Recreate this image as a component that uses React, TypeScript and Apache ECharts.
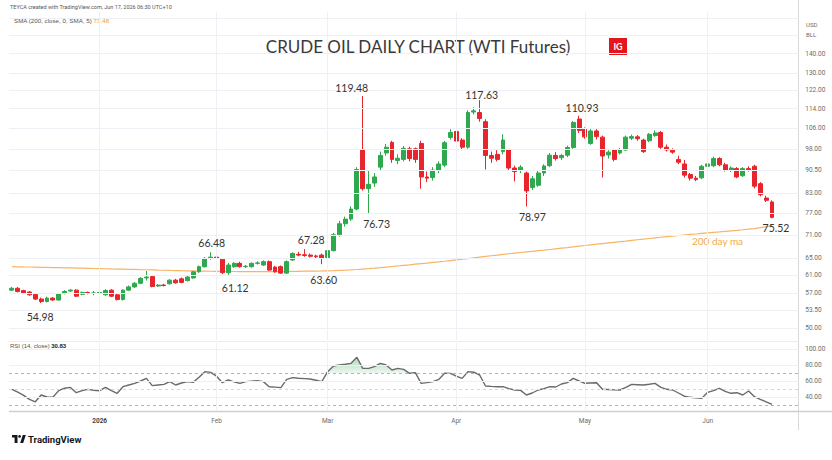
import React, { useEffect, useRef } from "react";
import * as echarts from "echarts";

// ---------- DATA ----------
const TRADE_DAYS: Array<[string, number[]]> = [
  ["2025-12", [10, 11, 12, 15, 16, 17, 18, 19, 22, 23, 24, 26, 29, 30, 31]],
  ["2026-01", [2, 5, 6, 7, 8, 9, 12, 13, 14, 15, 16, 20, 21, 22, 23, 26, 27, 28, 29, 30]],
  ["2026-02", [2, 3, 4, 5, 6, 9, 10, 11, 12, 13, 17, 18, 19, 20, 23, 24, 25, 26, 27]],
  ["2026-03", [2, 3, 4, 5, 6, 9, 10, 11, 12, 13, 16, 17, 18, 19, 20, 23, 24, 25, 26, 27, 30, 31]],
  ["2026-04", [1, 2, 3, 6, 7, 8, 9, 10, 13, 14, 15, 16, 17, 20, 21, 22, 23, 24, 27, 28, 29, 30]],
  ["2026-05", [1, 4, 5, 6, 7, 8, 11, 12, 13, 14, 15, 18, 19, 20, 21, 22, 25, 26, 27, 28, 29]],
  ["2026-06", [1, 2, 3, 4, 5, 8, 9, 10, 11, 12, 15, 16]],
];
const FUTURE_DAYS = ["2026-06-17", "2026-06-18", "2026-06-22", "2026-06-23"];
const MONTH_LABELS: Record<string, string> = {
  "2026-01": "2026",
  "2026-02": "Feb",
  "2026-03": "Mar",
  "2026-04": "Apr",
  "2026-05": "May",
  "2026-06": "Jun",
};

// [open, high, low, close]
const PRICE_BARS: number[][] = [
  [57.7, 58.4, 57.5, 58.1], [58.1, 58.4, 57.2, 57.4], [57.6, 57.8, 56.9, 57.1], [57.3, 57.5, 56.5, 56.7],
  [56.8, 57.0, 55.6, 55.8], [55.8, 56.1, 54.98, 55.3], [55.3, 56.3, 55.1, 56.0], [56.0, 56.2, 55.4, 55.6],
  [55.6, 57.1, 55.5, 56.9], [57.0, 57.7, 56.8, 57.4], [57.5, 57.9, 57.3, 57.7], [57.7, 57.9, 56.2, 56.4],
  [56.8, 57.4, 56.6, 57.2], [57.2, 57.4, 56.8, 57.0], [57.0, 57.5, 56.6, 57.1], [57.1, 57.4, 56.7, 57.2],
  [56.7, 57.9, 56.5, 57.6], [57.7, 57.9, 56.2, 56.4], [56.7, 56.9, 55.5, 55.7], [55.7, 57.9, 55.5, 57.7],
  [57.7, 58.7, 57.5, 58.4], [58.4, 59.5, 58.2, 59.2], [59.2, 60.6, 59.0, 60.3], [60.4, 62.0, 59.8, 60.6],
  [60.7, 61.0, 58.3, 58.5], [58.6, 59.0, 58.4, 58.8], [58.8, 59.1, 58.5, 58.7], [59.1, 60.1, 58.9, 59.9],
  [59.9, 60.2, 59.1, 59.3], [60.2, 60.5, 59.2, 59.4], [59.8, 60.9, 59.6, 60.6], [60.4, 62.0, 60.2, 61.8],
  [61.8, 63.3, 61.6, 63.0], [63.0, 65.3, 62.8, 65.0], [65.0, 66.48, 64.7, 65.3], [65.3, 65.7, 64.6, 65.0],
  [64.8, 65.0, 61.3, 61.6], [61.6, 63.9, 61.12, 63.4], [63.0, 64.1, 62.7, 63.8], [63.8, 64.2, 62.8, 63.0],
  [63.0, 63.4, 62.7, 63.1], [63.0, 64.0, 62.8, 63.8], [63.8, 64.3, 63.5, 63.9], [63.4, 64.5, 63.2, 64.2],
  [64.2, 64.5, 62.0, 62.2], [62.9, 63.2, 61.6, 61.8], [63.0, 63.3, 61.3, 61.5], [61.5, 64.5, 61.3, 64.2],
  [64.6, 66.5, 64.4, 66.2], [66.0, 66.6, 65.5, 65.8], [65.9, 67.28, 65.4, 65.7], [65.8, 66.2, 65.2, 65.5],
  [65.6, 65.9, 65.0, 65.4], [65.8, 66.2, 63.6, 65.0], [65.2, 67.1, 64.9, 66.9], [66.9, 71.5, 66.7, 71.0],
  [71.0, 74.8, 70.5, 74.0], [74.0, 76.0, 73.2, 75.3], [75.3, 79.0, 74.8, 78.2], [78.2, 91.5, 77.8, 90.7],
  [97.6, 119.48, 83.8, 84.4], [84.4, 90.5, 76.73, 85.8], [86.2, 89.5, 85.0, 88.2], [91.5, 97.0, 90.5, 95.6],
  [96.5, 99.8, 95.5, 98.6], [100.4, 101.0, 93.0, 94.2], [93.8, 96.0, 92.5, 94.6], [94.2, 99.0, 93.5, 98.2],
  [98.0, 98.8, 93.5, 94.5], [98.0, 98.5, 93.0, 94.2], [100.0, 101.0, 84.4, 88.2], [88.2, 90.0, 86.5, 87.8],
  [88.0, 91.5, 87.0, 90.5], [90.5, 93.5, 89.5, 92.6], [92.2, 101.0, 91.5, 100.3], [102.3, 105.5, 101.5, 104.2],
  [104.6, 105.8, 100.0, 100.9], [101.3, 102.0, 97.5, 98.6], [98.6, 113.2, 98.0, 112.3], [112.5, 114.5, 111.5, 113.0],
  [112.3, 117.63, 108.5, 109.8], [108.5, 109.5, 90.7, 95.6], [95.6, 97.0, 93.0, 94.6], [96.0, 97.5, 93.5, 94.2],
  [97.0, 103.5, 96.0, 101.3], [97.6, 98.0, 90.5, 91.2], [91.2, 92.0, 86.7, 90.0], [90.5, 92.2, 89.5, 91.5],
  [89.5, 90.0, 78.97, 83.7], [84.8, 88.5, 84.0, 87.6], [85.5, 90.5, 85.0, 89.5], [89.5, 92.5, 88.5, 91.9],
  [92.0, 96.5, 91.5, 95.7], [95.6, 96.8, 93.8, 94.5], [94.8, 96.2, 94.0, 95.6], [95.7, 99.2, 95.0, 98.5],
  [98.5, 108.8, 98.0, 108.2], [109.6, 110.93, 104.0, 105.0], [105.5, 106.2, 101.8, 102.5], [100.0, 105.5, 99.5, 104.8],
  [104.8, 105.5, 101.5, 102.6], [102.4, 103.0, 88.0, 95.4], [95.8, 97.5, 94.5, 96.8], [97.6, 98.0, 93.5, 94.2],
  [96.5, 98.3, 96.0, 97.6], [97.6, 103.0, 97.2, 102.4], [102.0, 103.4, 101.3, 102.6], [102.5, 103.2, 101.0, 101.8],
  [101.3, 101.8, 96.5, 97.0], [101.0, 104.0, 100.5, 103.5], [103.0, 105.0, 102.5, 104.0], [104.2, 104.8, 98.0, 98.6],
  [98.6, 99.6, 97.0, 97.6], [97.5, 98.2, 96.2, 96.8], [94.2, 95.5, 92.5, 93.2], [92.6, 94.0, 88.0, 88.8],
  [89.0, 89.5, 87.0, 87.8], [87.8, 88.5, 86.8, 87.3], [87.9, 92.3, 87.5, 91.8], [91.8, 93.2, 91.2, 92.6],
  [92.0, 95.2, 91.5, 94.5], [94.5, 95.0, 91.8, 92.3], [92.3, 93.0, 90.0, 90.5], [90.5, 91.8, 89.8, 91.2],
  [91.0, 91.5, 87.8, 88.2], [88.6, 91.5, 88.2, 91.0], [91.0, 91.8, 90.0, 90.6], [91.8, 92.3, 84.5, 85.2],
  [86.0, 86.5, 82.0, 82.5], [81.5, 82.2, 80.3, 80.8], [80.3, 80.8, 75.52, 75.8],
];

const MA200: number[] = [
  63.0, 62.98, 62.95, 62.93, 62.9, 62.86, 62.83, 62.8, 62.77, 62.74,
  62.71, 62.68, 62.65, 62.62, 62.58, 62.55, 62.52, 62.48, 62.45, 62.42,
  62.38, 62.35, 62.31, 62.28, 62.24, 62.2, 62.17, 62.13, 62.1, 62.06,
  62.03, 62.0, 61.97, 61.95, 61.93, 61.91, 61.89, 61.88, 61.87, 61.86,
  61.85, 61.85, 61.85, 61.85, 61.86, 61.86, 61.87, 61.88, 61.9, 61.92,
  61.94, 61.96, 61.98, 62.0, 62.03, 62.07, 62.12, 62.18, 62.25, 62.34,
  62.45, 62.55, 62.66, 62.78, 62.91, 63.04, 63.17, 63.31, 63.45, 63.6,
  63.74, 63.87, 64.01, 64.15, 64.3, 64.46, 64.62, 64.78, 64.95, 65.13,
  65.31, 65.48, 65.64, 65.8, 65.97, 66.13, 66.29, 66.44, 66.59, 66.74,
  66.89, 67.04, 67.2, 67.36, 67.52, 67.68, 67.85, 68.03, 68.21, 68.38,
  68.55, 68.71, 68.87, 69.03, 69.19, 69.35, 69.52, 69.69, 69.85, 70.02,
  70.19, 70.35, 70.51, 70.66, 70.81, 70.95, 71.09, 71.22, 71.36, 71.5,
  71.64, 71.78, 71.93, 72.07, 72.21, 72.36, 72.52, 72.68, 72.92, 73.2, 73.48,
];

const RSI14: number[] = [
  49.6, 46, 42, 37, 34, 42.5, 40, 39.6, 48, 51,
  52, 45.4, 48, 49.6, 48.5, 47.9, 52.1, 48, 44.6, 52.9,
  55, 57.1, 60, 63.3, 54.2, 55, 55.8, 59.2, 55, 57.5,
  59.2, 58.3, 64.6, 71.7, 70.8, 66, 57.9, 61.3, 59, 57.1,
  59.2, 59.8, 60.4, 59.2, 52.9, 52.3, 51.7, 62.1, 64.2, 63.5,
  63, 62.5, 61, 59.2, 71.7, 78.7, 80, 81, 82.1, 89.6,
  75.8, 75.8, 78, 82.1, 80, 73.8, 75.8, 74.6, 69.6, 70.4,
  57.1, 58, 59.2, 62, 69.6, 69.5, 66, 63.3, 71.7, 71,
  67.5, 53.75, 53.3, 52.9, 52.9, 50.5, 48.75, 48.3, 42.5, 45,
  48.75, 50.5, 52.9, 52.5, 56.25, 58, 63.3, 60, 57.1, 57.5,
  57.9, 49.6, 49.3, 48.9, 48.75, 52, 55.8, 55.4, 55, 56,
  57.1, 52, 49.6, 48.75, 45, 41, 39.6, 38.9, 38.3, 45.8,
  48, 50.8, 47, 44.6, 45.4, 42.5, 47.5, 40.4, 37, 34, 30.83,
];

const PRICE_TICKS = [140, 130, 122, 114, 106, 98, 90.5, 83, 77, 71, 65, 61, 57, 53.5, 50];
const PRICE_GRID_ONLY = [150, 160];
const RSI_TICKS = [100, 80, 60, 40];
const RSI_LEVELS = [70, 50, 30];

// [bar index, price] of the annotated highs / lows
const ANNOTATIONS: Array<[number, number]> = [
  [60, 119.48], [80, 117.63], [97, 110.93], [61, 76.73], [88, 78.97], [130, 75.52],
  [34, 66.48], [50, 67.28], [37, 61.12], [53, 63.6], [5, 54.98],
];
const ANNOTATION_OFFSETS: Array<[number, number]> = [
  [-11, -8], [2, -5], [3, -8], [8, 10], [6, 11], [4, 10],
  [1, -9], [7, -9], [7, 13], [2, 16], [-1, 14],
];

// ---------- STYLE ----------
const UP = "#2fa84f";
const DOWN = "#e8252c";
const GRID_LINE = "#edf0f4";
const AXIS_TEXT = "#6b6b6b";
const SMALL_FONT = "Roboto, 'Liberation Sans', sans-serif";
const LABEL_FONT = "Lato, 'Liberation Sans', sans-serif";

export default function App() {
  const ref = useRef<HTMLDivElement>(null);

  useEffect(() => {
    document.body.style.margin = "0";
    if (!ref.current) return;
    const chart = echarts.init(ref.current, null, { renderer: "svg" });

    const tradeDates: string[] = TRADE_DAYS.flatMap(([m, ds]) =>
      ds.map((d) => `${m}-${String(d).padStart(2, "0")}`)
    );
    const categories = [...tradeDates, ...FUTURE_DAYS];
    const monthStarts = new Set<number>();
    const seen = new Set<string>();
    tradeDates.forEach((d, i) => {
      const m = d.slice(0, 7);
      if (!seen.has(m)) {
        seen.add(m);
        if (MONTH_LABELS[m]) monthStarts.add(i);
      }
    });
    const monthStartDates = tradeDates.filter((_, i) => monthStarts.has(i));

    const candleData = PRICE_BARS.map(([o, h, l, c]) => [o, c, l, h]);
    const rsiFill = RSI14.map((v) => (v > 70 ? v : 70));

    const vLine = (d: string) => ({
      xAxis: d,
      label: { show: false },
      lineStyle: { color: GRID_LINE, type: "solid", width: 1 },
    });

    const tickLabel = (v: number) => ({
      show: true,
      position: "end",
      distance: 7,
      formatter: v.toFixed(2),
      color: AXIS_TEXT,
      fontSize: 6.5,
      fontFamily: SMALL_FONT,
    });

    const priceMarkLines = [
      ...PRICE_TICKS.map((v) => ({
        yAxis: v,
        lineStyle: { color: GRID_LINE, type: "solid", width: 1 },
        label: tickLabel(v),
      })),
      ...PRICE_GRID_ONLY.map((v) => ({
        yAxis: v,
        lineStyle: { color: GRID_LINE, type: "solid", width: 1 },
        label: { show: false },
      })),
      ...monthStartDates.map(vLine),
    ];

    const rsiMarkLines = [
      ...RSI_TICKS.map((v) => ({
        yAxis: v,
        lineStyle: { color: GRID_LINE, type: "solid", width: 1 },
        label: tickLabel(v),
      })),
      ...RSI_LEVELS.map((v) => ({
        yAxis: v,
        lineStyle: {
          color: v === 70 ? "#f29a9a" : v === 30 ? "#9fd162" : "#d6d6d6",
          type: [3, 3],
          width: 1,
        },
        label: { show: false },
      })),
      ...monthStartDates.map(vLine),
    ];

    const markPoints = ANNOTATIONS.map(([i, p], k) => ({
      coord: [tradeDates[i], p],
      value: p,
      symbol: "circle",
      symbolSize: 1,
      itemStyle: { color: "rgba(0,0,0,0)" },
      label: {
        show: true,
        position: "inside",
        offset: ANNOTATION_OFFSETS[k],
        formatter: p.toFixed(2),
        color: "#333",
        fontSize: 10.5,
        fontFamily: LABEL_FONT,
      },
    }));

    const gridLeft = 9;
    const gridRight = 33.7;

    const option: any = {
      animation: false,
      backgroundColor: "#ffffff",
      grid: [
        { left: gridLeft, right: gridRight, top: 12, height: 328 },
        { left: gridLeft, right: gridRight, top: 343, height: 68 },
      ],
      xAxis: [
        {
          type: "category",
          gridIndex: 0,
          data: categories,
          boundaryGap: true,
          axisLine: { show: false },
          axisTick: { show: false },
          axisLabel: { show: false },
          splitLine: { show: false },
        },
        {
          type: "category",
          gridIndex: 1,
          data: categories,
          boundaryGap: true,
          axisLine: { show: false },
          axisTick: { show: false },
          splitLine: { show: false },
          axisLabel: {
            interval: (index: number) => monthStarts.has(index),
            margin: 6,
            fontSize: 6.5,
            color: AXIS_TEXT,
            fontFamily: SMALL_FONT,
            formatter: (value: string) => {
              const lab = MONTH_LABELS[value.slice(0, 7)] || "";
              return lab === "2026" ? `{b|${lab}}` : lab;
            },
            rich: {
              b: { fontWeight: "bold", fontSize: 6.5, color: "#444", fontFamily: SMALL_FONT },
            },
          },
        },
      ],
      yAxis: [
        {
          type: "log",
          logBase: 10,
          gridIndex: 0,
          min: 47.86,
          max: 163.7,
          position: "right",
          axisLine: { show: false },
          axisTick: { show: false },
          axisLabel: { show: false },
          splitLine: { show: false },
        },
        {
          type: "value",
          gridIndex: 1,
          min: 22.5,
          max: 107.5,
          position: "right",
          axisLine: { show: false },
          axisTick: { show: false },
          axisLabel: { show: false },
          splitLine: { show: false },
        },
      ],
      series: [
        {
          type: "candlestick",
          xAxisIndex: 0,
          yAxisIndex: 0,
          data: candleData,
          barWidth: 4.4,
          itemStyle: {
            color: UP,
            color0: DOWN,
            borderColor: UP,
            borderColor0: DOWN,
            borderWidth: 1,
          },
          markLine: {
            silent: true,
            symbol: ["none", "none"],
            animation: false,
            data: priceMarkLines,
          },
          markPoint: {
            silent: true,
            animation: false,
            data: markPoints,
          },
          z: 3,
        },
        {
          type: "line",
          name: "SMA 200",
          xAxisIndex: 0,
          yAxisIndex: 0,
          data: MA200,
          showSymbol: false,
          symbol: "none",
          lineStyle: { color: "#f6b466", width: 1.2 },
          z: 2,
        },
        {
          type: "line",
          xAxisIndex: 1,
          yAxisIndex: 1,
          data: rsiFill,
          showSymbol: false,
          symbol: "none",
          lineStyle: { width: 0, opacity: 0 },
          areaStyle: {
            origin: 70,
            color: new echarts.graphic.LinearGradient(0, 0, 0, 1, [
              { offset: 0, color: "rgba(67,170,90,0.6)" },
              { offset: 1, color: "rgba(67,170,90,0.15)" },
            ]),
          },
          z: 1,
        },
        {
          type: "line",
          name: "RSI",
          xAxisIndex: 1,
          yAxisIndex: 1,
          data: RSI14,
          showSymbol: false,
          symbol: "none",
          lineStyle: { color: "#6a6a6a", width: 1.4 },
          markLine: {
            silent: true,
            symbol: ["none", "none"],
            animation: false,
            data: rsiMarkLines,
          },
          z: 3,
        },
      ],
      graphic: [
        // frame lines
        { type: "line", shape: { x1: 798.5, y1: 0, x2: 798.5, y2: 430 }, style: { stroke: "#d9d9d9", lineWidth: 1 }, silent: true },
        { type: "line", shape: { x1: 9, y1: 411.5, x2: 832, y2: 411.5 }, style: { stroke: "#cfcfcf", lineWidth: 1.5 }, silent: true },
        { type: "line", shape: { x1: 9, y1: 341.5, x2: 798.5, y2: 341.5 }, style: { stroke: "#ececec", lineWidth: 1 }, silent: true },
        // header
        {
          type: "text", x: 10, y: 7,
          style: { text: "TEYCA created with TradingView.com, Jun 17, 2026 06:30 UTC+10", fontSize: 5.5, fill: "#555", fontFamily: SMALL_FONT, verticalAlign: "middle" },
        },
        {
          type: "text", x: 14, y: 20,
          style: {
            text: "{a|SMA (200, close, 0, SMA, 5)} {o|73.48}",
            fontSize: 6.2, fontFamily: SMALL_FONT, verticalAlign: "middle",
            rich: { a: { fill: "#555", fontSize: 6.2 }, o: { fill: "#f39c2b", fontSize: 6.2 } },
          },
        },
        {
          type: "text", x: 10, y: 345.5,
          style: {
            text: "{a|RSI (14, close)} {v|30.83}",
            fontSize: 6, fontFamily: SMALL_FONT, verticalAlign: "middle",
            rich: { a: { fill: "#555", fontSize: 6 }, v: { fill: "#222", fontSize: 6, fontWeight: "bold" } },
          },
        },
        { type: "text", x: 806, y: 24, style: { text: "USD", fontSize: 6, fill: AXIS_TEXT, fontFamily: SMALL_FONT, verticalAlign: "middle" } },
        { type: "text", x: 806, y: 34, style: { text: "BLL", fontSize: 6, fill: AXIS_TEXT, fontFamily: SMALL_FONT, verticalAlign: "middle" } },
        // title
        {
          type: "text", x: 418, y: 46,
          style: { text: "CRUDE OIL DAILY CHART (WTI Futures)", fontSize: 17, fill: "#3a3a3a", fontFamily: LABEL_FONT, align: "center", verticalAlign: "middle" },
        },
        { type: "rect", shape: { x: 609, y: 38, width: 18, height: 17 }, style: { fill: "#e3161d" } },
        {
          type: "text", x: 618, y: 46.5,
          style: { text: "IG", fontSize: 9, fontWeight: "bold", fill: "#ffffff", fontFamily: LABEL_FONT, align: "center", verticalAlign: "middle" },
        },
        {
          type: "text", x: 692, y: 241,
          style: { text: "200 day ma", fontSize: 10, fill: "#f4a94a", fontFamily: LABEL_FONT, verticalAlign: "middle" },
        },
        // TradingView logo
        { type: "polygon", shape: { points: [[12, 435], [17.5, 435], [17.5, 443], [14.6, 443], [14.6, 437.6], [12, 437.6]] }, style: { fill: "#131722" } },
        { type: "circle", shape: { cx: 19.6, cy: 436.4, r: 1.4 }, style: { fill: "#131722" } },
        { type: "polygon", shape: { points: [[20.2, 443], [22.8, 435], [25.8, 435], [23.2, 443]] }, style: { fill: "#131722" } },
        {
          type: "text", x: 28, y: 439.5,
          style: { text: "TradingView", fontSize: 9.5, fontWeight: "bold", fill: "#131722", fontFamily: SMALL_FONT, verticalAlign: "middle" },
        },
      ],
    };

    chart.setOption(option);
    return () => chart.dispose();
  }, []);

  return (
    <div
      ref={ref}
      style={{ position: "fixed", left: 0, top: 0, width: 832, height: 460, background: "#fff" }}
    />
  );
}
